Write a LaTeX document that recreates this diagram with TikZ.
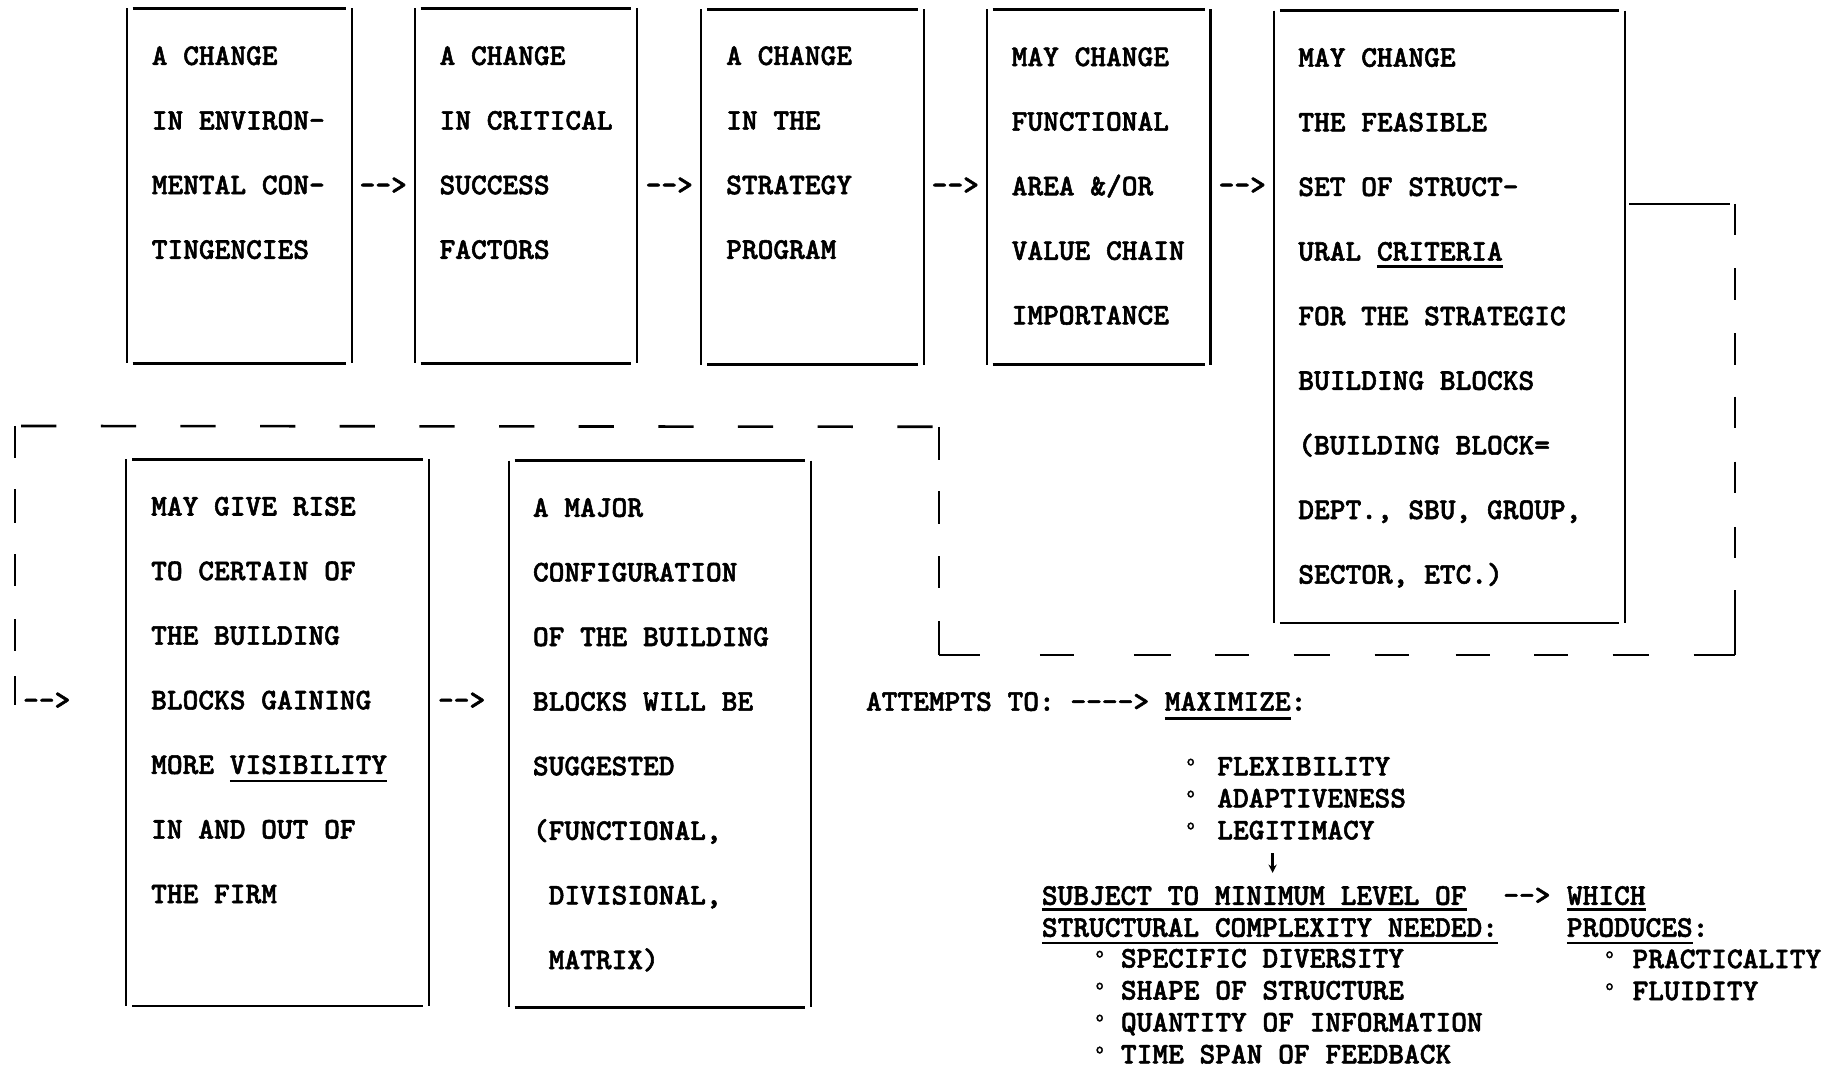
\documentclass[tikz,border=0pt]{standalone}
\usepackage{fontspec}
\usepackage{graphicx}
\usetikzlibrary{arrows.meta}
\newfontfamily\tw[FakeBold=1.8]{lmmonolt10-bold.otf}
\newcommand\ulw[2][6pt]{\setbox0=\hbox{#2}\rlap{\rule[-#1]{\wd0}{2pt}}\box0}
\newcommand\dg[1]{\makebox[#1][l]{\hspace{2pt}\raisebox{8.5pt}{\fontsize{13}{13}\selectfont o}}}
\newcommand\obox[1]{%
  \draw[vln] (#1.north west) -- (#1.south west);
  \draw[vln] (#1.north east) -- (#1.south east);
  \draw[hln] ([xshift=5pt]#1.north west) -- ([xshift=-5pt]#1.north east);
  \draw[hln] ([xshift=5pt]#1.south west) -- ([xshift=-5pt]#1.south east);}
\tikzset{
  bx/.style={draw=none, inner sep=0pt, anchor=north west},
  txt/.style={inner sep=0pt, anchor=base west, align=left, font=\tw\fontsize{25.5}{55}\selectfont},
  txs/.style={inner sep=0pt, anchor=base west, align=left, font=\tw\fontsize{25.5}{27.2}\selectfont},
  arr/.style={inner sep=0pt, anchor=base, font=\tw\fontsize{25.5}{55}\selectfont},
  vln/.style={line width=1.8pt},
  hln/.style={line width=2.4pt},
  fb/.style={line width=2.2pt},
}
\begin{document}
\begin{tikzpicture}[x=1pt,y=-1pt]
\fill[white] (0,0) rectangle (1568,909);
\useasboundingbox (0,0) rectangle (1568,909);

% top row boxes
\node[bx, minimum width=191pt, minimum height=302pt] (b1) at (108,7) {};
\node[bx, minimum width=189pt, minimum height=302pt] (b2) at (353,7) {};
\node[bx, minimum width=189pt, minimum height=302pt] (b3) at (597,8) {};
\node[bx, minimum width=190pt, minimum height=302pt] (b4) at (840,8) {};
\node[bx, minimum width=298pt, minimum height=521pt] (b5) at (1084.5,9) {};
% bottom row boxes
\node[bx, minimum width=257pt, minimum height=465pt] (b6) at (107.5,391) {};
\node[bx, minimum width=257pt, minimum height=465pt] (b7) at (433,392) {};

\obox{b1}\obox{b2}\obox{b3}\obox{b4}\obox{b5}\obox{b6}\obox{b7}

% box texts (anchored at the baseline of their last line)
\node[txt] (t1) at (129,220.3) {A CHANGE\\IN ENVIRON-\\MENTAL CON-\\TINGENCIES};
\node[txt] (t2) at (374,220.3) {A CHANGE\\IN CRITICAL\\SUCCESS\\FACTORS};
\node[txt] (t3) at (618,220.3) {A CHANGE\\IN THE\\STRATEGY\\PROGRAM};
\node[txt] (t4) at (861,276.2) {MAY CHANGE\\FUNCTIONAL\\AREA \&/OR\\VALUE CHAIN\\IMPORTANCE};
\node[txt] (t5) at (1105,496.8) {MAY CHANGE\\THE FEASIBLE\\SET OF STRUCT-\\URAL \ulw{CRITERIA}\\FOR THE STRATEGIC\\BUILDING BLOCKS\\(BUILDING BLOCK=\\DEPT., SBU, GROUP,\\SECTOR, ETC.)};
\node[txt] (t6) at (128.5,768.8) {MAY GIVE RISE\\TO CERTAIN OF\\THE BUILDING\\BLOCKS GAINING\\MORE \ulw[6.8pt]{VISIBILITY}\\IN AND OUT OF\\THE FIRM};
\node[txt] (t7) at (453.5,824.9) {A MAJOR\\CONFIGURATION\\OF THE BUILDING\\BLOCKS WILL BE\\SUGGESTED\\(FUNCTIONAL,\\~DIVISIONAL,\\~MATRIX)};

% typed arrows between boxes
\coordinate (y3) at (0,165.3);
\coordinate (y6) at (0,603.8);
\path (b1.east |- y3) -- node[arr] (a12) {-{}-{}>} (b2.west |- y3);
\path (b2.east |- y3) -- node[arr] (a23) {-{}-{}>} (b3.west |- y3);
\path (b3.east |- y3) -- node[arr] (a34) {-{}-{}>} (b4.west |- y3);
\path (b4.east |- y3) -- node[arr] (a45) {-{}-{}>} (b5.west |- y3);
\path (b6.east |- y6) -- node[arr, xshift=-6pt] (a67) {-{}-{}>} (b7.west |- y6);

% feedback connector from b5 to b6
\coordinate (f1) at (1477,173.6);
\coordinate (f2) at (1477,557.6);
\coordinate (f3) at (799.4,557.6);
\coordinate (f4) at (799.4,363.3);
\coordinate (f5) at (12.8,362.6);
\coordinate (f6) at (12.8,600);
\draw[fb] ([xshift=4pt]b5.east |- f1) -- ([xshift=-4.3pt]f1);
\draw[fb, dash pattern=on 26.5pt off 28.3pt on 27pt off 28.4pt on 26.9pt off 27pt on 26.9pt off 28.4pt on 27pt off 28.4pt on 26.9pt off 27pt on 60pt off 10pt] (f1) -- (f2);
\draw[fb, dash pattern=on 34.6pt off 51.2pt on 28.9pt off 51.2pt on 31.2pt off 37.8pt on 29pt off 37.8pt on 31.2pt off 37.9pt on 28.9pt off 40pt on 28.9pt off 37.9pt on 28.9pt off 37.9pt on 31.1pt off 37.9pt on 45pt off 10pt] (f3) -- (f2);
\draw[fb, dash pattern=on 28pt off 27pt on 27.4pt off 27.9pt on 26.9pt off 28.4pt on 35pt off 10pt] (f4) -- (f3);
\draw[fb, dash pattern=on 30pt off 37.8pt, dash phase=62.6pt] (f5) -- (f4);
\draw[fb, dash pattern=on 27pt off 27pt on 28.4pt off 26.9pt on 27.1pt off 28pt on 27.4pt off 21.2pt on 30pt off 10pt] (f5) -- (f6);
\node[txt] (fin) at ([xshift=6.7pt]f6 |- y6) {-{}-{}>};

% lower right text
\node[txs] (att) at (737,605) {ATTEMPTS TO: -{}-{}-{}-{}> \ulw[7.5pt]{MAXIMIZE}:};
\node[txs] (mx) at (1008,714.5) {\dg{28pt}FLEXIBILITY\\\dg{28pt}ADAPTIVENESS\\\dg{28pt}LEGITIMACY};
\coordinate (d1) at (1083.3,726.5);
\coordinate (d2) at (1083.3,743);
\draw[line width=2pt, -{Stealth[length=7pt,width=7pt]}] (d1) -- (d2);
\node[txs] (sub) at (886.7,797.4) {\ulw[5pt]{SUBJECT TO MINIMUM LEVEL OF}\\\ulw[6.5pt]{STRUCTURAL COMPLEXITY NEEDED:}};
\node[txs] (crit) at (930.5,905.2) {\dg{23.5pt}SPECIFIC DIVERSITY\\\dg{23.5pt}SHAPE OF STRUCTURE\\\dg{23.5pt}QUANTITY OF INFORMATION\\\dg{23.5pt}TIME SPAN OF FEEDBACK};
\node[txs] (a8) at (1279.5,769.9) {-{}-{}>};
\node[txs] (wh) at (1333.6,797.4) {\ulw[5pt]{WHICH}\\\ulw[6.5pt]{PRODUCES}:};
\node[txs] (pr) at (1364.5,851.3) {\dg{25pt}PRACTICALITY\\\dg{25pt}FLUIDITY};
\end{tikzpicture}
\end{document}
